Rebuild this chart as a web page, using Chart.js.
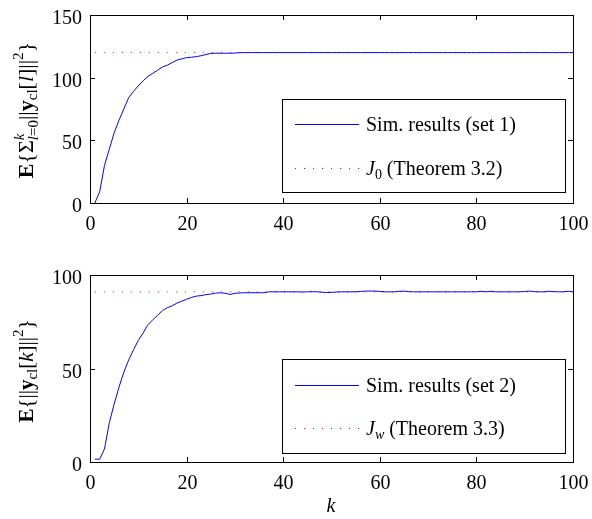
<!DOCTYPE html>
<html>
<head>
<meta charset="utf-8">
<script src="https://cdn.jsdelivr.net/npm/chart.js@4"></script>
<style>
  body { margin: 0; background: #fff; }
  canvas { position: absolute; left: 0; }
  #top { top: 0; }
  #bottom { top: 260px; }
</style>
</head>
<body>
<canvas id="top" width="592" height="260"></canvas>
<canvas id="bottom" width="592" height="259"></canvas>
<script>
const SERIF = "Liberation Serif";
const S = 20 / 18; // text is drawn at a smaller size and scaled up

const kValues = [
  1, 2, 3, 4, 5, 6, 7, 8, 9, 10, 11, 12, 13, 14, 15, 16, 17, 18, 19, 20,
  21, 22, 23, 24, 25, 26, 27, 28, 29, 30, 31, 32, 33, 34, 35, 36, 37, 38, 39, 40,
  41, 42, 43, 44, 45, 46, 47, 48, 49, 50, 51, 52, 53, 54, 55, 56, 57, 58, 59, 60,
  61, 62, 63, 64, 65, 66, 67, 68, 69, 70, 71, 72, 73, 74, 75, 76, 77, 78, 79, 80,
  81, 82, 83, 84, 85, 86, 87, 88, 89, 90, 91, 92, 93, 94, 95, 96, 97, 98, 99, 100
];

// cumulative cost, set 1
const simSet1 = [
  0, 9, 30, 43, 56, 66, 75, 84, 89, 93.5, 97.5, 101, 103.5, 106, 108.5, 110, 112, 114, 115, 116,
  116.3, 116.8, 117.5, 118.5, 119.3, 119.5, 119.5, 119.5, 119.5, 119.6, 120, 120, 120, 120, 120, 120, 120, 120, 120, 120,
  120, 120, 120, 120, 120, 120, 120, 120, 120, 120, 120, 120, 120, 120, 120, 120, 120, 120, 120, 120,
  120, 120, 120, 120, 120, 120, 120, 120, 120, 120, 120, 120, 120, 120, 120, 120, 120, 120, 120, 120,
  120, 120, 120, 120, 120, 120, 120, 120, 120, 120, 120, 120, 120, 120, 120, 120, 120, 120, 120, 120
];
const J0 = 120;

// per-step cost, set 2
const simSet2 = [
  1.5, 1.5, 7, 21, 31, 40, 48, 54.5, 60, 65, 69, 73.5, 76, 78.5, 81, 82.5, 83.5, 85, 86, 87,
  88, 88.7, 89, 89.5, 89.8, 90.3, 90.5, 90.2, 89.6, 90.2, 90.4, 90.5, 90.5, 90.5, 90.5, 90.5, 91, 91, 91, 91,
  91, 91, 91, 90.9, 91, 91.1, 91, 90.8, 90.6, 90.7, 90.9, 91, 91, 91, 91, 91.2, 91.4, 91.4, 91.4, 91.2,
  91, 91, 91, 91.3, 91.4, 91.1, 91, 91, 91, 91, 91, 91, 91, 91, 91, 91, 91, 91, 91, 91,
  91.3, 91, 91.3, 91, 91, 91, 91, 91, 91, 91.2, 91.4, 91.1, 91, 91, 91.3, 91.1, 91, 91, 91.3, 91
];
const Jw = 91;

const xTicks = [0, 20, 40, 60, 80, 100];

function fontOf(s) {
  return (s.i ? "italic " : "") + (s.b ? "bold " : "") + ((s.z || 20) / S) + "px " + SERIF;
}

// draw a run of text pieces with sub/superscripts at (x, y)
function drawRich(ctx, segs, x, y, rotate, align) {
  ctx.save();
  let w = 0;
  segs.forEach(function(s) {
    ctx.font = fontOf(s);
    if (!s.stay) w += ctx.measureText(s.t).width;
  });
  ctx.translate(x, y);
  if (rotate) ctx.rotate(-Math.PI / 2);
  ctx.scale(S, S);
  let cx = align === "left" ? 0 : align === "right" ? -w : -w / 2;
  ctx.fillStyle = "#000";
  ctx.textBaseline = "alphabetic";
  ctx.textAlign = "left";
  segs.forEach(function(s) {
    ctx.font = fontOf(s);
    ctx.fillText(s.t, cx, (s.dy || 0) / S);
    if (!s.stay) cx += ctx.measureText(s.t).width;
  });
  ctx.restore();
}

const decoPlugin = {
  id: "deco",
  afterDraw(chart) {
    const o = chart.options.plugins.deco;
    const ctx = chart.ctx;
    const a = chart.chartArea;
    const xs = chart.scales.x, ys = chart.scales.y;
    ctx.save();
    ctx.strokeStyle = "#000";
    ctx.lineWidth = 1;
    // box
    ctx.strokeRect(Math.round(a.left) + 0.5, Math.round(a.top) + 0.5,
      Math.round(a.right - a.left), Math.round(a.bottom - a.top));
    // inward ticks and tick labels
    ctx.beginPath();
    xs.ticks.forEach(function(t) {
      const px = Math.round(xs.getPixelForValue(t.value)) + 0.5;
      ctx.moveTo(px, a.bottom); ctx.lineTo(px, a.bottom - 5);
      ctx.moveTo(px, a.top); ctx.lineTo(px, a.top + 5);
      drawRich(ctx, [{ t: String(t.value) }], px, a.bottom + 27, false);
    });
    ys.ticks.forEach(function(t) {
      const py = Math.round(ys.getPixelForValue(t.value)) + 0.5;
      ctx.moveTo(a.left, py); ctx.lineTo(a.left + 5, py);
      ctx.moveTo(a.right, py); ctx.lineTo(a.right - 5, py);
      drawRich(ctx, [{ t: String(t.value) }], a.left - 8, py + 8, false, "right");
    });
    ctx.stroke();

    // legend
    const L = o.legend;
    ctx.fillStyle = "#fff";
    ctx.fillRect(L.x0, L.y0, L.x1 - L.x0, L.y1 - L.y0);
    ctx.strokeStyle = "#000";
    ctx.strokeRect(L.x0 + 0.5, L.y0 + 0.5, L.x1 - L.x0, L.y1 - L.y0);
    L.rows.forEach(function(r, i) {
      const ds = chart.data.datasets[i];
      ctx.save();
      ctx.strokeStyle = ds.borderColor;
      ctx.lineWidth = ds.borderWidth;
      ctx.setLineDash(ds.borderDash || []);
      ctx.beginPath();
      ctx.moveTo(295, r.y + 0.5);
      ctx.lineTo(359, r.y + 0.5);
      ctx.stroke();
      ctx.restore();
      drawRich(ctx, r.segs, 366, r.y + 7, false, "left");
    });

    // axis titles
    drawRich(ctx, o.ytitle.segs, o.ytitle.x, o.ytitle.y, true);
    if (o.xtitle) drawRich(ctx, o.xtitle.segs, o.xtitle.x, o.xtitle.y, false);
    ctx.restore();
  }
};

function makeChart(canvasId, sim, ref, yMax, yStep, deco) {
  const ctx = document.getElementById(canvasId).getContext("2d");
  return new Chart(ctx, {
    type: "line",
    data: {
      datasets: [
        {
          data: kValues.map(function(k, i) { return { x: k, y: sim[i] }; }),
          borderColor: "#0000ff",
          borderWidth: 1,
          pointRadius: 0,
          tension: 0
        },
        {
          data: kValues.map(function(k) { return { x: k, y: ref }; }),
          borderColor: "#ff0000",
          borderWidth: 1,
          borderDash: [1, 8],
          pointRadius: 0
        }
      ]
    },
    options: {
      responsive: false,
      animation: false,
      layout: { padding: { top: 15, right: 19, left: 0, bottom: 0 } },
      plugins: { legend: { display: false }, tooltip: { enabled: false }, deco: deco },
      scales: {
        x: {
          type: "linear",
          min: 0,
          max: 100,
          afterBuildTicks(scale) { scale.ticks = xTicks.map(function(v) { return { value: v }; }); },
          afterFit(scale) { scale.height = 57; },
          grid: { display: false, drawTicks: false },
          border: { display: false },
          ticks: { display: false }
        },
        y: {
          min: 0,
          max: yMax,
          ticks: { stepSize: yStep, display: false },
          afterFit(scale) { scale.width = 90; },
          grid: { display: false, drawTicks: false },
          border: { display: false }
        }
      }
    },
    plugins: [decoPlugin]
  });
}

makeChart("top", simSet1, J0, 150, 50, {
  legend: {
    x0: 282, y0: 99, x1: 565, y1: 192,
    rows: [
      { y: 124, segs: [{ t: "Sim. results (set 1)" }] },
      { y: 168, segs: [{ t: "J", i: 1 }, { t: "0", z: 14, dy: 4 }, { t: " (Theorem 3.2)" }] }
    ]
  },
  ytitle: {
    x: 33, y: 110,
    segs: [
      { t: "E", b: 1, z: 22 }, { t: "{Σ", z: 22 },
      { t: "k", i: 1, z: 15, dy: -9, stay: 1 },
      { t: "l", i: 1, z: 15, dy: 5 }, { t: "=0", z: 15, dy: 5 },
      { t: "||", z: 22 }, { t: "y", b: 1, z: 22 }, { t: "cl", z: 15, dy: 4 },
      { t: "[", z: 22 }, { t: "l", i: 1, z: 22 }, { t: "]||", z: 22 }, { t: "2", z: 15, dy: -10 }, { t: "}", z: 22 }
    ]
  }
});

makeChart("bottom", simSet2, Jw, 100, 50, {
  legend: {
    x0: 282, y0: 99, x1: 565, y1: 193,
    rows: [
      { y: 125, segs: [{ t: "Sim. results (set 2)" }] },
      { y: 168, segs: [{ t: "J", i: 1 }, { t: "w", i: 1, z: 14, dy: 4 }, { t: " (Theorem 3.3)" }] }
    ]
  },
  ytitle: {
    x: 33, y: 111,
    segs: [
      { t: "E", b: 1, z: 21 }, { t: "{||", z: 21 }, { t: "y", b: 1, z: 21 }, { t: "cl", z: 15, dy: 4 },
      { t: "[", z: 21 }, { t: "k", i: 1, z: 21 }, { t: "]||", z: 21 }, { t: "2", z: 15, dy: -10 }, { t: "}", z: 21 }
    ]
  },
  xtitle: { x: 331, y: 252, segs: [{ t: "k", i: 1 }] }
});
</script>
</body>
</html>
